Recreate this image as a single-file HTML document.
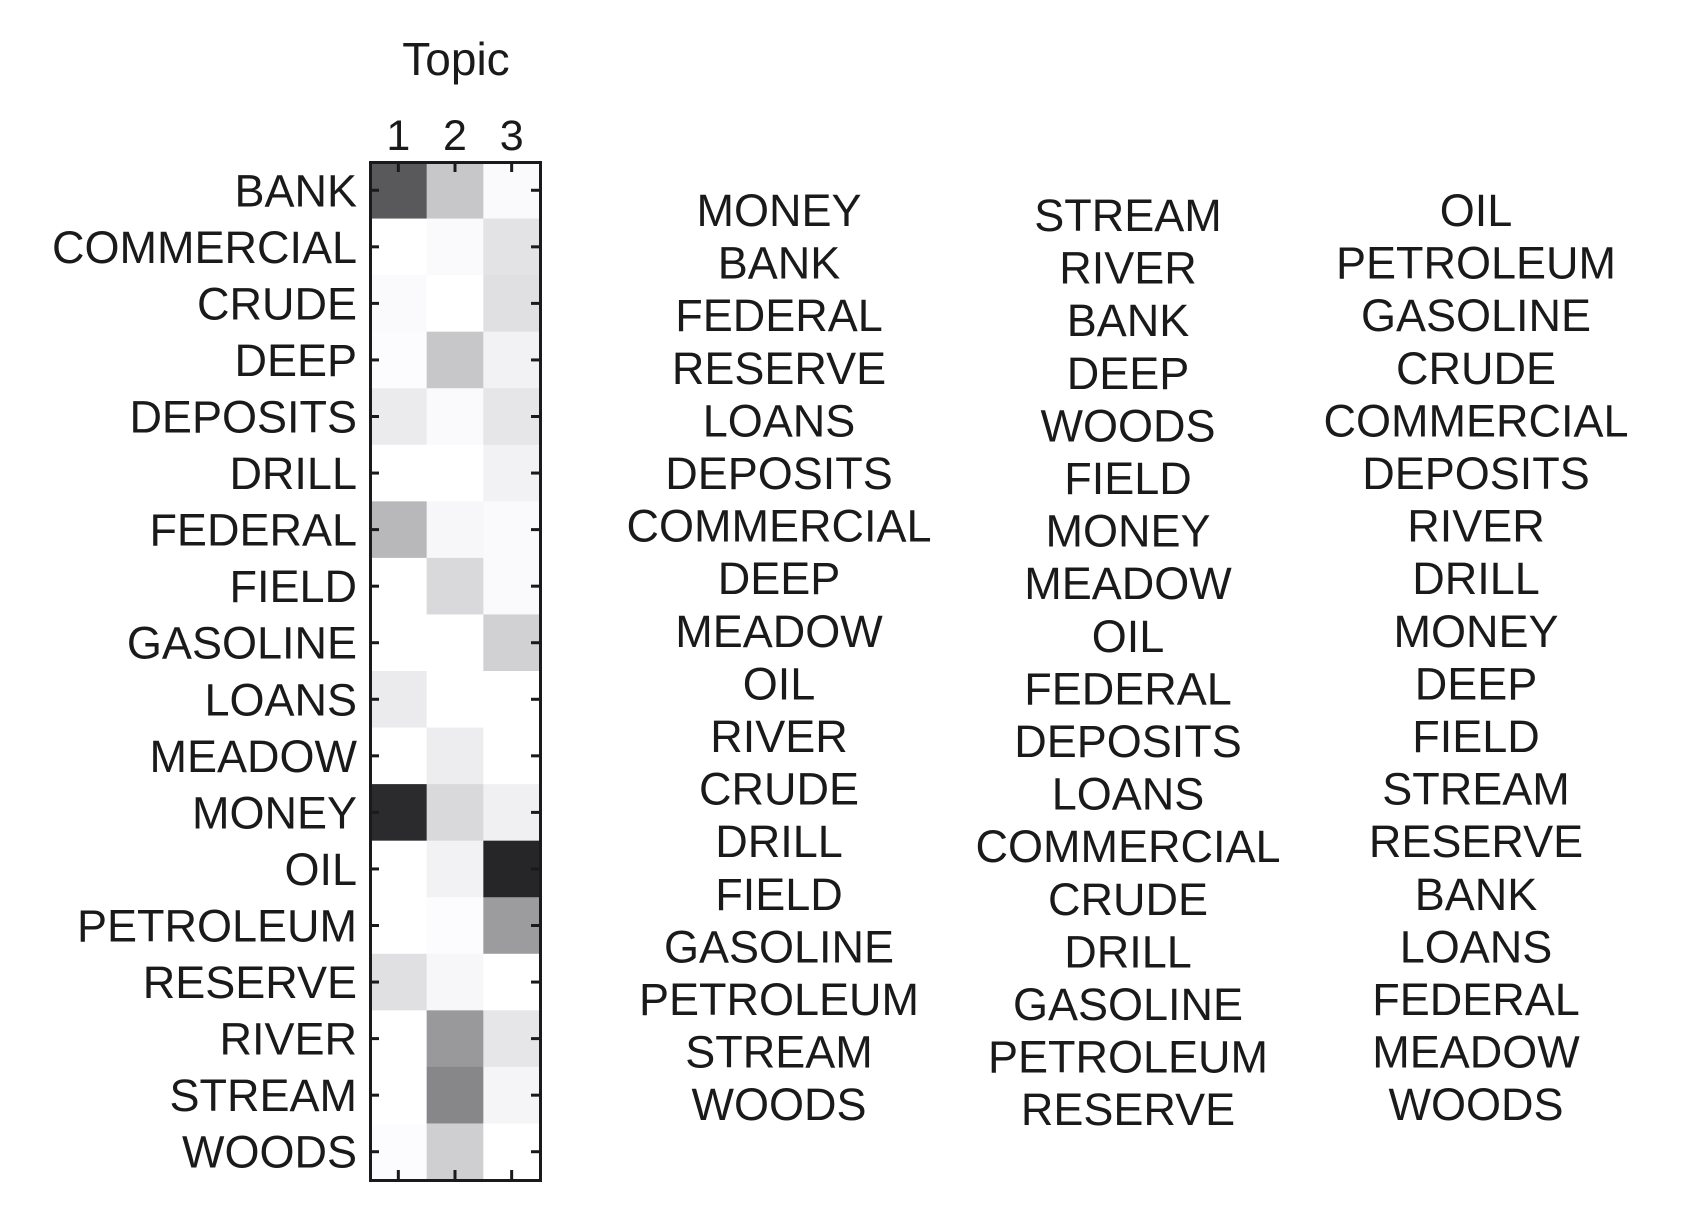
<!DOCTYPE html>
<html><head><meta charset="utf-8"><style>
body{margin:0;background:#fff;}
svg text{font-family:"Liberation Sans",Arial,sans-serif;fill:#1a1a1a;}
</style></head><body>
<svg id="chart" width="1688" height="1218" viewBox="0 0 1688 1218" xmlns="http://www.w3.org/2000/svg">
<text x="456" y="75" font-size="46" text-anchor="middle">Topic</text>
<g id="cells"></g><g id="ticks"></g><g id="labels"></g><g id="lists"></g>
<rect x="370.5" y="162.5" width="170" height="1018" fill="none" stroke="#1a1a1a" stroke-width="3"/>
</svg>
<script>
const words=["BANK","COMMERCIAL","CRUDE","DEEP","DEPOSITS","DRILL","FEDERAL","FIELD","GASOLINE","LOANS","MEADOW","MONEY","OIL","PETROLEUM","RESERVE","RIVER","STREAM","WOODS"];
const topics=["1","2","3"];
// darkness (0 = white, 1 = black) per word for topics 1,2,3
const topic1=[0.65,0,0.02,0.01,0.08,0,0.28,0,0,0.08,0,0.83,0,0,0.12,0,0,0.01];
const topic2=[0.22,0.02,0,0.22,0.02,0,0.03,0.15,0,0,0.07,0.15,0.05,0.01,0.03,0.40,0.47,0.19];
const topic3=[0.02,0.11,0.12,0.05,0.10,0.05,0.02,0.02,0.18,0,0,0.06,0.85,0.39,0,0.10,0.04,0];
const list1=["MONEY","BANK","FEDERAL","RESERVE","LOANS","DEPOSITS","COMMERCIAL","DEEP","MEADOW","OIL","RIVER","CRUDE","DRILL","FIELD","GASOLINE","PETROLEUM","STREAM","WOODS"];
const list2=["STREAM","RIVER","BANK","DEEP","WOODS","FIELD","MONEY","MEADOW","OIL","FEDERAL","DEPOSITS","LOANS","COMMERCIAL","CRUDE","DRILL","GASOLINE","PETROLEUM","RESERVE"];
const list3=["OIL","PETROLEUM","GASOLINE","CRUDE","COMMERCIAL","DEPOSITS","RIVER","DRILL","MONEY","DEEP","FIELD","STREAM","RESERVE","BANK","LOANS","FEDERAL","MEADOW","WOODS"];
const NS="http://www.w3.org/2000/svg";
const X0=370,Y0=162,W=170,H=1018,cw=W/3,ch=H/words.length;
const xc=i=>X0+cw*(i+0.5), yc=j=>Y0+ch*(j+0.5);
function mk(tag,attrs,parent){const e=document.createElementNS(NS,tag);for(const k in attrs)e.setAttribute(k,attrs[k]);document.getElementById(parent).appendChild(e);return e;}
const series=[topic1,topic2,topic3];
series.forEach((s,i)=>s.forEach((v,j)=>{
 const g=Math.round(255*(1-v));
 const r=mk("rect",{x:X0+cw*i,y:Y0+ch*j,width:cw+0.5,height:ch+0.5,fill:`rgb(${g},${g},${g+2>255?255:g+2})`},"cells");
 
 
}));
words.forEach((w,j)=>{
 const t=mk("text",{x:357,y:yc(j)+16,"font-size":45,"text-anchor":"end"},"labels");t.textContent=w;
 
 
 const a=mk("line",{x1:X0,x2:X0+9,y1:yc(j),y2:yc(j),stroke:"#1a1a1a","stroke-width":3},"ticks");
 
 
 const b=mk("line",{x1:X0+W-9,x2:X0+W,y1:yc(j),y2:yc(j),stroke:"#1a1a1a","stroke-width":3},"ticks");
 
 
});
topics.forEach((tp,i)=>{
 const t=mk("text",{x:xc(i),y:150,"font-size":43,"text-anchor":"middle"},"labels");t.textContent=tp;
 
 
 const a=mk("line",{x1:xc(i),x2:xc(i),y1:Y0,y2:Y0+10,stroke:"#1a1a1a","stroke-width":3},"ticks");
 
 
 const b=mk("line",{x1:xc(i),x2:xc(i),y1:Y0+H-10,y2:Y0+H,stroke:"#1a1a1a","stroke-width":3},"ticks");
 
 
});
const lists=[[list1,779,210],[list2,1128,215],[list3,1476,210]];
lists.forEach(([L,x,y0],k)=>L.forEach((w,j)=>{
 const t=mk("text",{x:x,y:y0+j*52.6+16,"font-size":45,"text-anchor":"middle"},"lists");t.textContent=w;
 
 
}));
</script>
</body></html>
